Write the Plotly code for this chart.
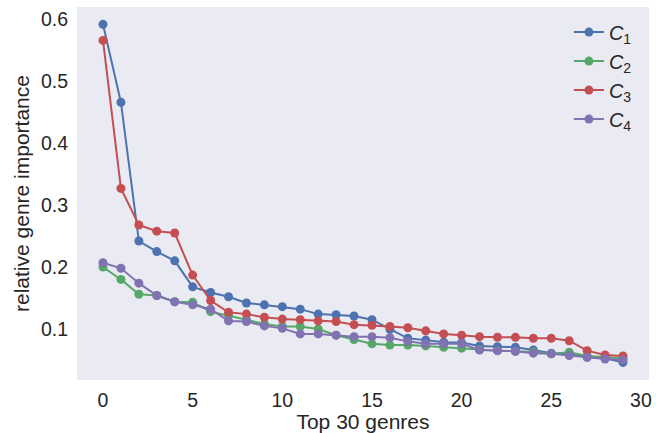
import plotly.graph_objects as go

genres = list(range(30))
c1 = [0.592, 0.466, 0.242, 0.225, 0.210, 0.168, 0.159, 0.152, 0.142, 0.139, 0.136, 0.132, 0.124, 0.123, 0.121,
      0.115, 0.0995, 0.085, 0.082, 0.0785, 0.078, 0.0726, 0.0715, 0.0705, 0.066, 0.061, 0.059, 0.055, 0.053, 0.046]
c2 = [0.200, 0.180, 0.156, 0.154, 0.144, 0.143, 0.128, 0.122, 0.115, 0.108, 0.104, 0.104, 0.100, 0.090, 0.083,
      0.076, 0.074, 0.074, 0.0726, 0.0705, 0.069, 0.067, 0.065, 0.064, 0.063, 0.060, 0.0624, 0.0565, 0.055, 0.0527]
c3 = [0.566, 0.327, 0.268, 0.258, 0.255, 0.187, 0.146, 0.127, 0.124, 0.119, 0.116, 0.115, 0.113, 0.112, 0.107,
      0.106, 0.104, 0.102, 0.097, 0.092, 0.090, 0.0876, 0.0866, 0.0865, 0.085, 0.085, 0.081, 0.065, 0.058, 0.0565]
c4 = [0.207, 0.198, 0.174, 0.154, 0.144, 0.139, 0.132, 0.113, 0.112, 0.105, 0.101, 0.092, 0.092, 0.090, 0.0876,
      0.0876, 0.086, 0.080, 0.076, 0.076, 0.076, 0.066, 0.065, 0.064, 0.061, 0.060, 0.057, 0.054, 0.0516, 0.050]

series = [("<i>C</i><sub>1</sub>", c1, "#4C72B0"),
          ("<i>C</i><sub>2</sub>", c2, "#55A868"),
          ("<i>C</i><sub>3</sub>", c3, "#C44E52"),
          ("<i>C</i><sub>4</sub>", c4, "#8172B2")]

x_ticks = [0, 5, 10, 15, 20, 25, 30]
y_ticks = [0.1, 0.2, 0.3, 0.4, 0.5, 0.6]

fig = go.Figure()
for name, vals, col in series:
    fig.add_trace(go.Scatter(x=genres, y=vals, name=name, mode="lines+markers",
                             line=dict(color=col, width=2),
                             marker=dict(color=col, size=9, line=dict(width=0))))

font = "Liberation Sans, Arial, sans-serif"
fig.update_layout(
    width=656, height=433,
    margin=dict(l=77, r=4, t=7, b=53),
    paper_bgcolor="white", plot_bgcolor="#EAEAF2",
    font=dict(family=font, color="#262626", size=19.5),
    showlegend=True,
    legend=dict(x=0.86, xanchor="left", y=0.985, yanchor="top",
                bgcolor="rgba(0,0,0,0)", font=dict(size=20), tracegroupgap=5),
    xaxis=dict(range=[-1.45, 30.45], tickvals=x_ticks, showgrid=False, zeroline=False,
               showline=False, ticks="", ticklabelstandoff=6,
               title=dict(text="Top 30 genres", font=dict(size=21), standoff=2)),
    yaxis=dict(range=[0.0176, 0.62], tickvals=y_ticks, showgrid=False, zeroline=False,
               showline=False, ticks="", ticklabelstandoff=8,
               title=dict(text="relative genre importance", font=dict(size=21), standoff=5)),
)

fig.write_html("out.html")
